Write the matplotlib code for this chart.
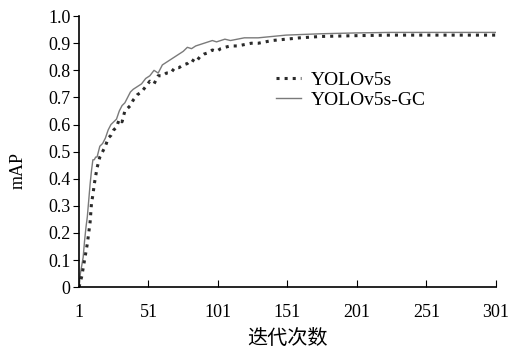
import matplotlib.pyplot as plt
import matplotlib as mpl

# YOLOv5s (dotted)
epochs_a = [1, 2, 3, 4, 5, 6, 7, 8, 9, 10, 11, 12, 13, 14, 15, 16, 18, 20, 22, 24,
            26, 28, 30, 32, 34, 36, 38, 40, 43, 46, 49, 52, 55, 58, 61, 64, 67, 70,
            73, 76, 79, 82, 85, 88, 91, 94, 97, 100, 103, 106, 110, 115, 120, 125,
            130, 140, 150, 160, 175, 200, 225, 250, 275, 301]
map_a = [0.0, 0.02, 0.04, 0.07, 0.10, 0.13, 0.16, 0.20, 0.24, 0.31, 0.34, 0.38, 0.41,
         0.44, 0.46, 0.48, 0.50, 0.52, 0.55, 0.56, 0.58, 0.59, 0.62, 0.61, 0.65, 0.66,
         0.67, 0.69, 0.71, 0.72, 0.74, 0.76, 0.75, 0.78, 0.78, 0.79, 0.79, 0.81, 0.81,
         0.82, 0.825, 0.84, 0.83, 0.85, 0.86, 0.865, 0.875, 0.87, 0.88, 0.885, 0.89,
         0.89, 0.895, 0.90, 0.90, 0.91, 0.915, 0.92, 0.925, 0.928, 0.93, 0.93, 0.93,
         0.93]

# YOLOv5s-GC (solid)
epochs_b = [1, 2, 3, 4, 5, 6, 7, 8, 9, 10, 11, 12, 13, 14, 16, 18, 20, 22, 24, 26,
            28, 30, 32, 34, 36, 38, 40, 43, 46, 49, 52, 55, 58, 61, 64, 67, 70, 73,
            76, 79, 82, 85, 88, 91, 94, 97, 100, 103, 106, 110, 115, 120, 130, 140,
            150, 175, 200, 225, 250, 275, 301]
map_b = [0.0, 0.05, 0.08, 0.11, 0.17, 0.22, 0.26, 0.32, 0.38, 0.43, 0.47, 0.47, 0.48,
         0.48, 0.52, 0.53, 0.55, 0.58, 0.60, 0.61, 0.62, 0.65, 0.67, 0.68, 0.70, 0.72,
         0.73, 0.74, 0.75, 0.77, 0.78, 0.80, 0.79, 0.82, 0.83, 0.84, 0.85, 0.86, 0.87,
         0.885, 0.88, 0.89, 0.895, 0.90, 0.905, 0.91, 0.905, 0.91, 0.915, 0.91, 0.915,
         0.92, 0.92, 0.925, 0.93, 0.935, 0.938, 0.94, 0.94, 0.94, 0.94]

xticks = [1, 51, 101, 151, 201, 251, 301]
yticks = [0, 0.1, 0.2, 0.3, 0.4, 0.5, 0.6, 0.7, 0.8, 0.9, 1.0]
ytick_labels = ['0', '0.1', '0.2', '0.3', '0.4', '0.5', '0.6', '0.7', '0.8', '0.9', '1.0']

mpl.rcParams['font.family'] = ['Liberation Serif', 'Noto Sans CJK SC']

fig = plt.figure(figsize=(5.08, 3.51), dpi=100)
ax = fig.add_axes([0.1555, 0.182, 0.8205, 0.772])

ax.plot(epochs_b, map_b, '-', color='#7a7a7a', lw=1.0, label='YOLOv5s-GC')
ax.plot(epochs_a, map_a, ':', color='#2a2a2a', lw=2.2, label='YOLOv5s')

ax.set_xlim(1, 301)
ax.set_ylim(0, 1.0)
ax.set_xticks(xticks)
ax.set_yticks(yticks)
ax.set_yticklabels(ytick_labels)
ax.tick_params(axis='x', direction='in', length=5, labelsize=13, pad=12)
ax.tick_params(axis='y', direction='out', length=4, labelsize=13, pad=2)
for s in ['top', 'right']:
    ax.spines[s].set_visible(False)
for s in ['left', 'bottom']:
    ax.spines[s].set_linewidth(1.2)

ax.set_xlabel('迭代次数', fontsize=14.5, family='Noto Sans CJK SC', labelpad=5)
ax.set_ylabel('mAP', fontsize=13)
ax.yaxis.set_label_coords(-0.125, 0.43)

h, l = ax.get_legend_handles_labels()
ax.legend(h[::-1], l[::-1], loc='upper left', bbox_to_anchor=(0.43, 0.86),
          frameon=False, fontsize=14, handlelength=1.3, handletextpad=0.5,
          labelspacing=0.1)

fig.savefig('out.png', dpi=100)
